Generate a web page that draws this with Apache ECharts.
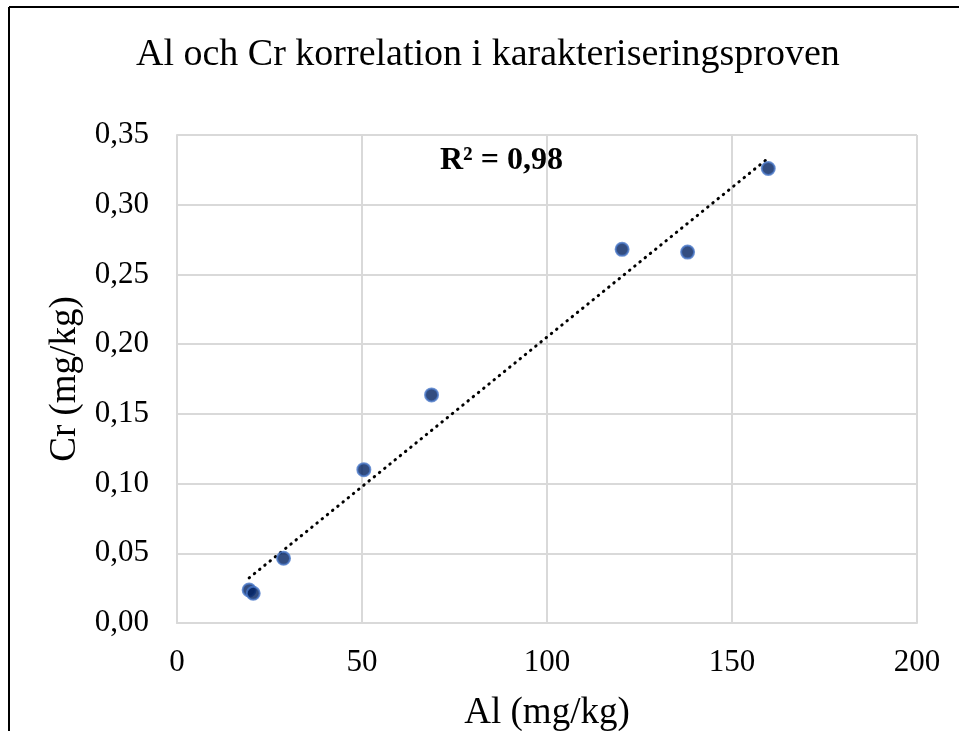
<!DOCTYPE html>
<html>
<head>
<meta charset="utf-8">
<script src="https://cdn.jsdelivr.net/npm/echarts@6/dist/echarts.min.js"></script>
<style>
html,body{margin:0;padding:0;background:#fff;}
#chart{width:959px;height:731px;}
</style>
</head>
<body>
<div id="chart"></div>
<script>
// Data
const alValues = [19.5, 20.6, 28.8, 50.5, 68.8, 120.3, 138.0, 159.8];
const crValues = [0.0237, 0.0213, 0.0464, 0.110, 0.1636, 0.268, 0.266, 0.326];
const xTicks = [0, 50, 100, 150, 200];
const yTicks = [0, 0.05, 0.10, 0.15, 0.20, 0.25, 0.30, 0.35];
const titleText = 'Al och Cr korrelation i karakteriseringsproven';
const xAxisTitle = 'Al (mg/kg)';
const yAxisTitle = 'Cr (mg/kg)';
const r2Text = 'R² = 0,98';

// linear least squares trendline from the data
const n = alValues.length;
const mx = alValues.reduce((a, b) => a + b, 0) / n;
const my = crValues.reduce((a, b) => a + b, 0) / n;
let sxy = 0, sxx = 0;
for (let i = 0; i < n; i++) { sxy += (alValues[i] - mx) * (crValues[i] - my); sxx += (alValues[i] - mx) ** 2; }
const slope = sxy / sxx, intercept = my - slope * mx;
const xMin = Math.min(...alValues), xMax = Math.max(...alValues);
const trend = [[xMin, intercept + slope * xMin], [xMax, intercept + slope * xMax]];

const chart = echarts.init(document.getElementById('chart'), null, {renderer: 'canvas'});
const font = '"Liberation Serif", "Times New Roman", serif';
const gridColor = '#d9d9d9';

chart.setOption({
  backgroundColor: '#fff',
  animation: false,
  title: {
    text: titleText,
    left: 136,
    top: 36,
    padding: 0,
    textStyle: {fontFamily: font, fontSize: 38, fontWeight: 'normal', color: '#000'}
  },
  grid: {left: 177, right: 42, top: 135, bottom: 108, containLabel: false, outerBoundsMode: 'none'},
  xAxis: {
    type: 'value', min: xTicks[0], max: xTicks[xTicks.length - 1], interval: 50,
    name: xAxisTitle, nameLocation: 'middle', nameGap: 72,
    nameTextStyle: {fontFamily: font, fontSize: 37, color: '#000'},
    axisLine: {show: true, lineStyle: {color: gridColor, width: 2}},
    axisTick: {show: false},
    axisLabel: {fontFamily: font, fontSize: 31, color: '#000', margin: 24},
    splitLine: {show: true, lineStyle: {color: gridColor, width: 2}}
  },
  yAxis: {
    type: 'value', min: yTicks[0], max: yTicks[yTicks.length - 1], interval: 0.05,
    name: yAxisTitle, nameLocation: 'middle', nameGap: 90,
    nameTextStyle: {fontFamily: font, fontSize: 37, color: '#000'},
    axisLine: {show: true, lineStyle: {color: gridColor, width: 2}},
    axisTick: {show: false},
    axisLabel: {fontFamily: font, fontSize: 31, color: '#000', margin: 28,
      formatter: v => v.toFixed(2).replace('.', ',')},
    splitLine: {show: true, lineStyle: {color: gridColor, width: 2}}
  },
  series: [
    {
      type: 'line', data: trend, symbol: 'none', z: 3,
      lineStyle: {color: '#000', width: 3, type: [0.5, 6.2], cap: 'round'}
    },
    {
      type: 'scatter', data: alValues.map((x, i) => [x, crValues[i]]), z: 4,
      symbol: 'circle', symbolSize: 13,
      itemStyle: {color: '#002060', borderColor: '#4a78c8', borderWidth: 2}
    }
  ],
  graphic: [
    {type: 'text', left: 440, top: 145, style: {text: r2Text, font: 'bold 32px ' + font, fill: '#000'}},
    {type: 'line', shape: {x1: 9, y1: 7, x2: 959, y2: 7}, style: {stroke: '#000', lineWidth: 2}},
    {type: 'line', shape: {x1: 9, y1: 7, x2: 9, y2: 731}, style: {stroke: '#000', lineWidth: 2}}
  ]
});
</script>
</body>
</html>
